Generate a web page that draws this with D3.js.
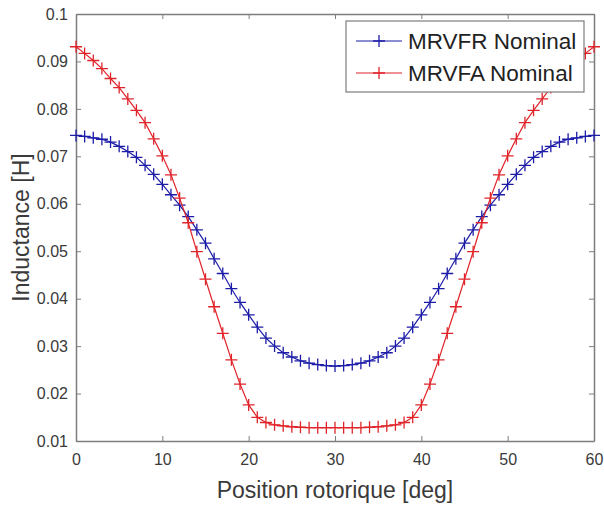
<!DOCTYPE html>
<html>
<head>
<meta charset="utf-8">
<script src="https://cdn.jsdelivr.net/npm/d3@7"></script>
<style>
  body { margin: 0; background: #fff; }
  svg { display: block; font-family: "Liberation Sans", Arial, sans-serif; }
</style>
</head>
<body>
<div id="chart"></div>
<script>
// rotor position [deg], one sample per degree
const positions = d3.range(0, 61);

// MRVFR Nominal inductance [H]
const mrvfr = [
  0.0744, 0.0742, 0.0739, 0.0736, 0.0730, 0.0721, 0.0710, 0.0698, 0.0681, 0.0662,
  0.0641, 0.0619, 0.0597, 0.0573, 0.0545, 0.0517, 0.0484, 0.0453, 0.0421, 0.0392,
  0.0366, 0.0340, 0.0317, 0.0300, 0.0286, 0.0277, 0.0269, 0.0264, 0.0261, 0.0259,
  0.0258,
  0.0259, 0.0261, 0.0264, 0.0269, 0.0277, 0.0286, 0.0300, 0.0317, 0.0340, 0.0366,
  0.0392, 0.0421, 0.0453, 0.0484, 0.0517, 0.0545, 0.0573, 0.0597, 0.0619, 0.0641,
  0.0662, 0.0681, 0.0698, 0.0710, 0.0721, 0.0730, 0.0736, 0.0739, 0.0742, 0.0744
];

// MRVFA Nominal inductance [H]
const mrvfa = [
  0.0931, 0.0917, 0.0902, 0.0885, 0.0864, 0.0845, 0.0821, 0.0797, 0.0771, 0.0737,
  0.0701, 0.0661, 0.0612, 0.0560, 0.0499, 0.0441, 0.0383, 0.0327, 0.0271, 0.0220,
  0.0176, 0.0150, 0.0139, 0.0134, 0.0132, 0.0130, 0.0129, 0.0128, 0.0128, 0.0128,
  0.0128,
  0.0128, 0.0128, 0.0128, 0.0129, 0.0130, 0.0132, 0.0134, 0.0139, 0.0150, 0.0176,
  0.0220, 0.0271, 0.0327, 0.0383, 0.0441, 0.0499, 0.0560, 0.0612, 0.0661, 0.0701,
  0.0737, 0.0771, 0.0797, 0.0821, 0.0845, 0.0864, 0.0885, 0.0902, 0.0917, 0.0931
];

const seriesNames = ["MRVFR Nominal", "MRVFA Nominal"];
const seriesColors = ["#1c1ca8", "#e0242a"];

const xTicks = [0, 10, 20, 30, 40, 50, 60];
const yTicks = [0.01, 0.02, 0.03, 0.04, 0.05, 0.06, 0.07, 0.08, 0.09, 0.1];
const yTickLabels = ["0.01", "0.02", "0.03", "0.04", "0.05", "0.06", "0.07", "0.08", "0.09", "0.1"];

const xLabel = "Position rotorique [deg]";
const yLabel = "Inductance [H]";

// ------------------------------------------------------------------------
// SIZE
// ------------------------------------------------------------------------
const svgWidth = 604, svgHeight = 505;
const plotLeft = 76, plotRight = 594, plotTop = 14, plotBottom = 441;
const axisColor = "#7d7d7d";
const textColor = "#3a3a3a";

const svg = d3.select("#chart").append("svg")
  .attr("width", svgWidth)
  .attr("height", svgHeight);

const x = d3.scaleLinear().domain([0, 60]).range([plotLeft, plotRight]);
const y = d3.scaleLinear().domain([0.01, 0.1]).range([plotBottom, plotTop]);

// ------------------------------------------------------------------------
// AXES (box with inward ticks)
// ------------------------------------------------------------------------
function styleAxis(g) {
  g.select(".domain").attr("stroke", axisColor).attr("stroke-width", 1.5);
  g.selectAll(".tick line").attr("stroke", axisColor).attr("stroke-width", 1);
  g.selectAll(".tick text").attr("fill", textColor).attr("font-size", 16);
  g.attr("font-family", null);
}

svg.append("g")
  .attr("transform", `translate(0,${plotBottom})`)
  .call(d3.axisBottom(x).tickValues(xTicks).tickSizeInner(-5).tickSizeOuter(0).tickPadding(13).tickFormat(d3.format("d")))
  .call(styleAxis);

svg.append("g")
  .attr("transform", `translate(0,${plotTop})`)
  .call(d3.axisTop(x).tickValues(xTicks).tickSizeInner(-5).tickSizeOuter(0).tickFormat(""))
  .call(styleAxis);

svg.append("g")
  .attr("transform", `translate(${plotLeft},0)`)
  .call(d3.axisLeft(y).tickValues(yTicks).tickSizeInner(-5).tickSizeOuter(0).tickPadding(8)
    .tickFormat((d, i) => yTickLabels[i]))
  .call(styleAxis);

svg.append("g")
  .attr("transform", `translate(${plotRight},0)`)
  .call(d3.axisRight(y).tickValues(yTicks).tickSizeInner(-5).tickSizeOuter(0).tickFormat(""))
  .call(styleAxis);

// axis titles
svg.append("text")
  .attr("x", (plotLeft + plotRight) / 2)
  .attr("y", 498)
  .attr("text-anchor", "middle")
  .attr("font-size", 23)
  .attr("fill", textColor)
  .text(xLabel);

svg.append("text")
  .attr("transform", `translate(29,${(plotTop + plotBottom) / 2}) rotate(-90)`)
  .attr("text-anchor", "middle")
  .attr("font-size", 23)
  .attr("fill", textColor)
  .text(yLabel);

// ------------------------------------------------------------------------
// DATA
// ------------------------------------------------------------------------
const series = [mrvfr, mrvfa].map((vals, i) => ({
  name: seriesNames[i],
  color: seriesColors[i],
  points: positions.map((p, j) => ({ x: p, y: vals[j] }))
}));

const line = d3.line().x(d => x(d.x)).y(d => y(d.y));
const m = 6; // half marker size

const sg = svg.selectAll(".series").data(series).enter()
  .append("g").attr("class", "series");

sg.append("path")
  .attr("d", d => line(d.points))
  .attr("fill", "none")
  .attr("stroke", d => d.color)
  .attr("stroke-width", 1.2);

sg.each(function(s) {
  d3.select(this).selectAll(".mk").data(s.points).enter()
    .append("path")
      .attr("class", "mk")
      .attr("d", d => `M${x(d.x) - m},${y(d.y)}H${x(d.x) + m}M${x(d.x)},${y(d.y) - m}V${y(d.y) + m}`)
      .attr("stroke", s.color)
      .attr("stroke-width", 1.3);
});

// ------------------------------------------------------------------------
// LEGEND
// ------------------------------------------------------------------------
const legend = svg.append("g");
legend.append("rect")
  .attr("x", 346).attr("y", 21)
  .attr("width", 238).attr("height", 71)
  .attr("fill", "#fff")
  .attr("stroke", axisColor)
  .attr("stroke-width", 1.2);

const li = legend.selectAll(".li").data(series).enter()
  .append("g")
  .attr("transform", (d, i) => `translate(0,${41 + i * 32})`);
li.append("line")
  .attr("x1", 356).attr("x2", 402)
  .attr("stroke", d => d.color).attr("stroke-width", 1.2);
li.append("path")
  .attr("d", `M${379 - m},0H${379 + m}M379,${-m}V${m}`)
  .attr("stroke", d => d.color).attr("stroke-width", 1.3);
li.append("text")
  .attr("x", 408)
  .attr("dy", "0.36em")
  .attr("font-size", 22.5)
  .attr("fill", "#222")
  .text(d => d.name);
</script>
</body>
</html>
